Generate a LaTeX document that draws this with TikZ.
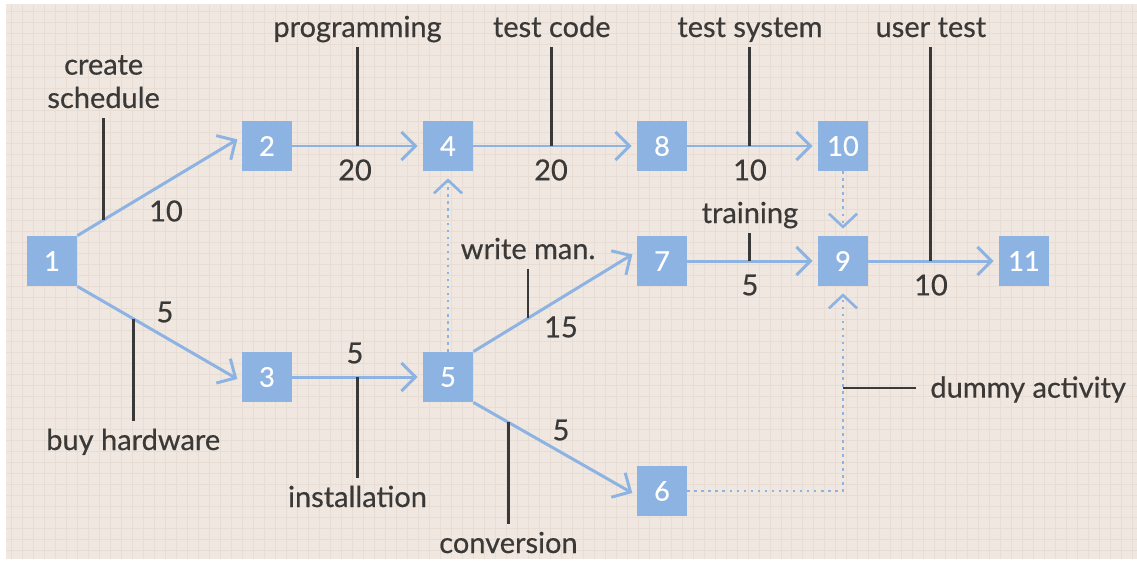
\documentclass[tikz,border=0pt]{standalone}
\usepackage{fontspec}
\setmainfont{Lato}[FakeBold=0.5]
\usepackage{xcolor}
\usetikzlibrary{arrows.meta,positioning}
\definecolor{paper}{HTML}{EFE7E0}
\definecolor{gridc}{HTML}{E8DDD4}
\definecolor{evblue}{HTML}{8DB3E2}
\definecolor{ink}{HTML}{3B3937}
\tikzset{sq/.style={rectangle,fill=evblue,text=white,minimum size=1cm,inner sep=0pt,font=\fontsize{15.5}{18}\selectfont},
act/.style={draw=evblue,line width=1.7pt,-{Straight Barb[length=8pt,width=16pt]},shorten >=0.1cm},
dummy/.style={draw=evblue,line width=1.5pt,dash pattern=on 1.5pt off 2.5pt,-{Straight Barb[length=7.5pt,width=16pt]},shorten >=0.14cm},
lead/.style={draw=ink,line width=1.6pt},
lbl/.style={text=ink,font=\fontsize{16.5}{19}\selectfont,inner sep=1.5pt},
tag/.style={lbl,text height=15pt,text depth=4pt},
num/.style={text=ink,font=\fontsize{16.5}{19}\selectfont,inner sep=1pt}}

\begin{document}
\begin{tikzpicture}[x=0.02cm,y=-0.02cm]
        \useasboundingbox (0,0) rectangle (1137,562);
        \fill[white] (0,0) rectangle (1137,562);
        \fill[paper] (6,4) rectangle (1137,559);
        \draw[gridc,line width=0.4pt,step=0.22cm] (6,4) grid (1137,559);

        \node[sq] (n1) at (52,261) {1};
        \node[sq] (n2) at (267,146) {2};
        \node[sq] (n3) at (267,377) {3};
        \node[sq] (n4) at (448,146) {4};
        \node[sq] (n5) at (448,377) {5};
        \node[sq] (n6) at (662,491) {6};
        \node[sq] (n7) at (662,261) {7};
        \node[sq] (n8) at (662,146) {8};
        \node[sq] (n9) at (843,261) {9};
        \node[sq] (n10) at (843,146) {10};
        \node[sq] (n11) at (1024,261) {11};

        \draw[act] (n1.north east) -- coordinate[pos=0.16] (c12) (n2.160);
        \draw[act] (n1.south east) -- coordinate[pos=0.34] (c13) (n3.190);
        \draw[act] (n2) -- coordinate[pos=0.5] (c24) (n4);
        \draw[act] (n3) -- coordinate[pos=0.5] (c35) (n5);
        \draw[act] (n4) -- coordinate[pos=0.48] (c48) (n8);
        \draw[act] (n8) -- coordinate[pos=0.48] (c810) (n10);
        \draw[act] (n5.north east) -- coordinate[pos=0.335] (c57) (n7.160);
        \draw[act] (n5.south east) -- coordinate[pos=0.215] (c56) (n6.190);
        \draw[act] (n7) -- coordinate[pos=0.48] (c79) (n9);
        \draw[act] (n9) -- coordinate[pos=0.48] (c911) (n11);
        \draw[dummy] (n5) -- (n4);
        \draw[dummy] (n10) -- (n9);
        \draw[dummy] (n6) -| (n9);

        \node[num] (w12) at (166,211) {10};
        \node[num] (w13) at (165,312) {5};
        \node[num] (w24) at (355,170) {20};
        \node[num] (w35) at (355,353) {5};
        \node[num] (w48) at (551,170) {20};
        \node[num] (w810) at (750,170) {10};
        \node[num] (w57) at (561,327) {15};
        \node[num] (w56) at (561,430) {5};
        \node[num] (w79) at (750,285) {5};
        \node[num] (w911) at (931,285) {10};

        \node[lbl,align=center,text depth=4pt,anchor=south] (lsched) at (c12 |- 0,118) {create\\schedule};
        \node[tag,anchor=base] (lbuy) at (c13 |- 0,450) {buy hardware};
        \node[tag,anchor=base] (lprog) at (c24 |- 0,37) {programming};
        \node[tag,anchor=base] (linst) at (c35 |- 0,507) {installation};
        \node[tag,anchor=base] (ltcode) at (c48 |- 0,37) {test code};
        \node[tag,anchor=base] (ltsys) at (c810 |- 0,37) {test system};
        \node[tag,anchor=base] (lwrite) at (c57 |- 0,259) {write man.};
        \node[tag,anchor=base] (lconv) at (c56 |- 0,553) {conversion};
        \node[tag,anchor=base] (ltrain) at (c79 |- 0,223) {training};
        \node[tag,anchor=base] (lutest) at (c911 |- 0,37) {user test};
        \node[tag,anchor=west,inner xsep=8pt] (ldummy) at (916,388) {dummy activity};
        \coordinate (dmid) at (n9 |- ldummy.west);

        \draw[lead] (lsched) -- (c12);
        \draw[lead] (lbuy) -- (c13);
        \draw[lead] (lprog) -- (c24);
        \draw[lead] (linst) -- (c35);
        \draw[lead] (ltcode) -- (c48);
        \draw[lead] (ltsys) -- (c810);
        \draw[lead] (lwrite) -- (c57);
        \draw[lead] (lconv) -- (c56);
        \draw[lead] (ltrain) -- (c79);
        \draw[lead] (lutest) -- (c911);
        \draw[lead] (dmid) -- (ldummy.west);
    \end{tikzpicture}
\end{document}
